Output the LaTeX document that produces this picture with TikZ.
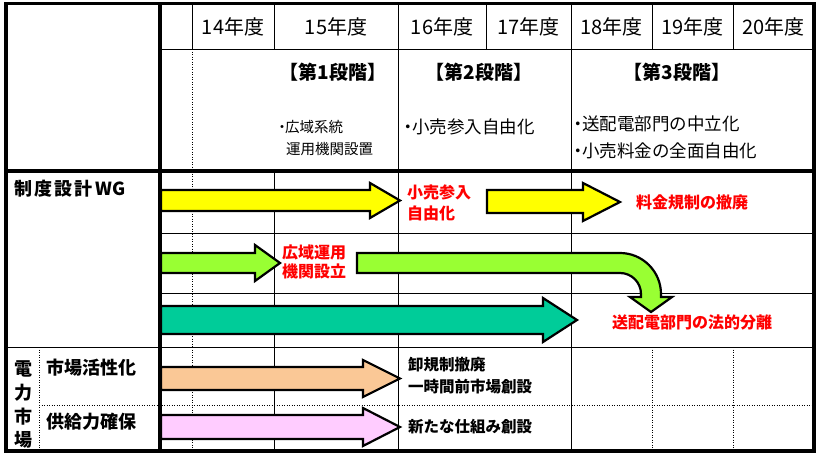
\documentclass[tikz,border=0pt]{standalone}
\usepackage{fontspec}
\newfontfamily\jp{Noto Sans CJK JP}
\definecolor{yel}{HTML}{FFFF00}
\definecolor{lgreen}{HTML}{99FF33}
\definecolor{teal2}{HTML}{00CC99}
\definecolor{tan2}{HTML}{FAC896}
\definecolor{pink2}{HTML}{FFCCFF}
\definecolor{red2}{HTML}{FF0000}
\begin{document}
\begin{tikzpicture}[x=1pt,y=-1pt,
  thinln/.style={line width=0.9pt},
  dotln/.style={line width=0.9pt, dash pattern=on 1pt off 1.5pt},
  thickln/.style={line width=3.5pt},
  arr/.style={draw=black, line width=2.2pt, line join=miter},
  hdr/.style={inner sep=0pt, font=\jp\fontsize{20}{22}\selectfont},
  stage/.style={inner sep=0pt, font=\jp\bfseries\fontsize{19}{21}\selectfont},
  bul/.style={inner sep=0pt, anchor=west, font=\jp\fontsize{17.5}{19}\selectfont},
  bulsm/.style={inner sep=0pt, anchor=west, font=\jp\fontsize{14.5}{16}\selectfont},
  redlbl/.style={inner sep=0pt, anchor=west, text=red2, font=\jp\bfseries\fontsize{16}{18}\selectfont},
  blklbl/.style={inner sep=0pt, anchor=west, font=\jp\bfseries\fontsize{15.5}{17}\selectfont},
  leftlbl/.style={inner sep=0pt, anchor=west, font=\jp\bfseries\fontsize{18}{20}\selectfont},
]
\useasboundingbox (0,0) rectangle (820,458);
\fill[white] (0,0) rectangle (820,458);

% ---- header row verticals
\foreach \x in {192,274,398,486,571,652,733} \draw[thinln] (\x,4) -- (\x,49);
\draw[thinln] (160,49) -- (814,49);
% ---- stage row
\draw[dotln] (192,49) -- (192,171);
\draw[thinln] (398,49) -- (398,171);
\draw[thinln] (571,49) -- (571,171);
% ---- WG rows
\draw[dotln] (192,171) -- (192,347);
\foreach \x in {274,398,571} \draw[thinln] (\x,171) -- (\x,347);
\draw[thinln] (160,233) -- (814,233);
\draw[thinln] (160,293) -- (814,293);
\draw[thinln] (6,347) -- (814,347);
% ---- market rows
\foreach \x in {192,652,733} \draw[dotln] (\x,347) -- (\x,451);
\foreach \x in {274,398,571} \draw[thinln] (\x,347) -- (\x,451);
\draw[dotln] (39,405) -- (814,405);
\draw[dotln] (39,347) -- (39,451);

% ---- arrows
\draw[arr, fill=yel] (161,190) -- (370,190) -- (370,183) -- (400,200.5) -- (370,218) -- (370,211) -- (161,211) -- cycle;
\draw[arr, fill=yel] (487,190) -- (583,190) -- (583,183) -- (620,202) -- (583,221) -- (583,213) -- (487,213) -- cycle;
\draw[arr, fill=lgreen] (161,253) -- (255,253) -- (255,245) -- (280,263) -- (255,281) -- (255,273) -- (161,273) -- cycle;
\draw[arr, fill=lgreen] (357,253) -- (620,253) .. controls (642.6,253) and (661,271.4) .. (661,294) -- (661,297) -- (672,297) -- (651,312) -- (630,297) -- (641,297) -- (641,294) .. controls (641,282.4) and (631.6,273) .. (620,273) -- (357,273) -- cycle;
\draw[arr, fill=teal2] (161,306) -- (543,306) -- (543,298) -- (577,320) -- (543,342) -- (543,334) -- (161,334) -- cycle;
\draw[arr, fill=tan2] (161,367) -- (363,367) -- (363,360) -- (400,378.5) -- (363,397) -- (363,390) -- (161,390) -- cycle;
\draw[arr, fill=pink2] (161,415) -- (363,415) -- (363,408) -- (400,427) -- (363,446) -- (363,439) -- (161,439) -- cycle;

% ---- thick frame
\draw[thickln] (6,3.5) rectangle (814,451);
\draw[thickln] (160,3.5) -- (160,451);
\draw[thickln] (6,171) -- (814,171);

% ---- header text
\node[hdr] (y14) at (233,27) {14年度};
\node[hdr] (y15) at (336,27) {15年度};
\node[hdr] (y16) at (442,27) {16年度};
\node[hdr] (y17) at (528.5,27) {17年度};
\node[hdr] (y18) at (611.5,27) {18年度};
\node[hdr] (y19) at (692.5,27) {19年度};
\node[hdr] (y20) at (773.5,27) {20年度};

% ---- stage text
\node[stage] (s1) at (333,72) {【第1段階】};
\node[stage] (s2) at (479,72) {【第2段階】};
\node[stage] (s3) at (677,72) {【第3段階】};
\node[bulsm] (b1a) at (279,127) {\kern-0.3em・\kern-0.3em 広域系統};
\node[bulsm] (b1b) at (286,149) {運用機関設置};
\node[bul] (b2) at (405,127) {\kern-0.3em・\kern-0.3em 小売参入自由化};
\node[bul] (b3a) at (575,124) {\kern-0.3em・\kern-0.3em 送配電部門の中立化};
\node[bul] (b3b) at (575,151) {\kern-0.3em・\kern-0.3em 小売料金の全面自由化};

% ---- arrow labels
\node[redlbl] (r1a) at (407,192) {小売参入};
\node[redlbl] (r1b) at (407,213) {自由化};
\node[redlbl] (r2) at (636,202) {料金規制の撤廃};
\node[redlbl] (r3a) at (282,252) {広域運用};
\node[redlbl] (r3b) at (282,271) {機関設立};
\node[redlbl] (r4) at (612,322) {送配電部門の法的分離};
\node[blklbl] (k1a) at (408,365) {卸規制撤廃};
\node[blklbl] (k1b) at (408,387) {一時間前市場創設};
\node[blklbl] (k2) at (408,427) {新たな仕組み創設};

% ---- left column
\node[leftlbl] (wg) at (14,189) {制\kern2pt 度\kern2pt 設\kern2pt 計\kern3pt WG};
\node[leftlbl] (m1) at (46,368) {市場活性化};
\node[leftlbl] (m2) at (46,422) {供給力確保};
\node[leftlbl, anchor=center] (d1) at (23,369) {電};
\node[leftlbl, anchor=center] (d2) at (23,393) {力};
\node[leftlbl, anchor=center] (d3) at (23,417) {市};
\node[leftlbl, anchor=center] (d4) at (23,440) {場};
\end{tikzpicture}
\end{document}
